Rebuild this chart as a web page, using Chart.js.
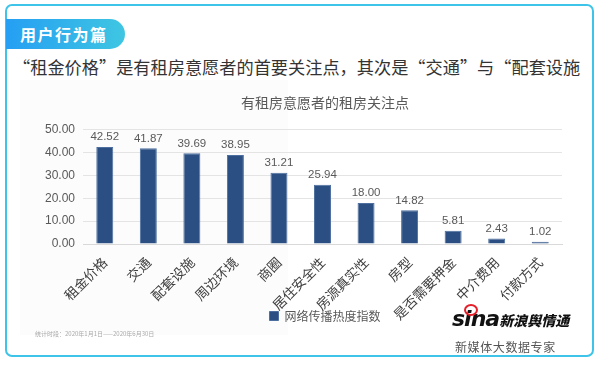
<!DOCTYPE html>
<html>
<head>
<meta charset="utf-8">
<script src="https://cdn.jsdelivr.net/npm/chart.js@4"></script>
<style>
    html, body { margin: 0; padding: 0; background: #fff; }
    body { width: 600px; height: 365px; position: relative; overflow: hidden; font-family: "Noto Sans CJK SC", "Noto Sans", sans-serif; }
    .frame { position: absolute; left: 5px; top: 4px; width: 585px; height: 349px; border: 2.5px solid #3ec4e8; border-radius: 7px; }
    .tag { position: absolute; left: 6px; top: 19px; width: 119px; height: 30px; border-radius: 0 15px 15px 0;
        background: linear-gradient(90deg, #259ff3, #3fc6e2); color: #fff; font-size: 16px; font-weight: 700;
        line-height: 30px; padding-left: 14px; box-sizing: border-box; letter-spacing: 1.5px; }
    .headline { position: absolute; left: 13px; top: 55px; font-size: 17.2px; color: #333; white-space: nowrap; line-height: 24px; }
    .inset { position: absolute; left: 20px; top: 80px; width: 268px; height: 255px; background: #fcfcfc; }
    #wrap { position: absolute; left: 40px; top: 88px; width: 570px; height: 244px; }
    .note { position: absolute; left: 35px; top: 329px; font-size: 6px; color: #aaa; white-space: nowrap; }
    .logo { position: absolute; left: 452px; top: 306px; white-space: nowrap; }
    .logo .sina { font-family: "DejaVu Sans", sans-serif; font-weight: 900; font-style: italic; font-size: 22px; color: #111; letter-spacing: -1px; }
    .logo .cn { font-weight: 900; font-style: italic; font-size: 14px; color: #111; }
    .logo .eye { position: absolute; left: 12px; top: -2px; width: 10px; height: 8px; border: 2px solid #e5202a; border-radius: 50%; }
    .slogan { position: absolute; left: 455px; top: 338px; font-size: 12px; color: #555; letter-spacing: 0.6px; white-space: nowrap; }
</style>
</head>
<body>
<div class="frame"></div>
<div class="tag">用户行为篇</div>
<div class="headline">“租金价格”是有租房意愿者的首要关注点，其次是“交通”与“配套设施</div>
<div class="inset"></div>
<div id="wrap"><canvas id="focusChart"></canvas></div>
<div class="note">统计时段：2020年1月1日——2020年6月30日</div>
<div class="logo"><span class="eye"></span><span class="sina">sina</span><span class="cn">新浪舆情通</span></div>
<div class="slogan">新媒体大数据专家</div>
<script>
const categories = ['租金价格', '交通', '配套设施', '周边环境', '商圈', '居住安全性', '房源真实性', '房型', '是否需要押金', '中介费用', '付款方式'];
const heatIndex = [42.52, 41.87, 39.69, 38.95, 31.21, 25.94, 18.00, 14.82, 5.81, 2.43, 1.02];
const seriesName = '网络传播热度指数';
const chartTitle = '有租房意愿者的租房关注点';

const barColor = '#2b4f82';

// draws the value above each bar
const valueLabels = {
    id: 'valueLabels',
    afterDatasetsDraw: (chart) => {
        const ctx = chart.ctx;
        const meta = chart.getDatasetMeta(0);
        ctx.save();
        ctx.font = '11.5px "Liberation Sans", Arial, sans-serif';
        ctx.fillStyle = '#595959';
        ctx.textAlign = 'center';
        ctx.textBaseline = 'bottom';
        meta.data.forEach((bar, i) => {
            ctx.fillText(heatIndex[i].toFixed(2), bar.x, bar.y - 4);
        });
        ctx.restore();
    }
};

new Chart(document.getElementById('focusChart'), {
    type: 'bar',
    data: {
        labels: categories,
        datasets: [{
            label: seriesName,
            data: heatIndex,
            backgroundColor: barColor,
            borderColor: '#4d6f9f',
            borderWidth: 1,
            categoryPercentage: 1,
            barPercentage: 0.39
        }]
    },
    options: {
        responsive: true,
        maintainAspectRatio: false,
        animation: false,
        plugins: {
            title: {
                display: true,
                text: chartTitle,
                color: '#595959',
                font: { size: 14, family: '"Noto Sans CJK SC", sans-serif', weight: 'normal' },
                padding: { top: 6, bottom: 19 }
            },
            legend: {
                position: 'bottom',
                labels: {
                    color: '#595959',
                    font: { size: 12, family: '"Noto Sans CJK SC", sans-serif' },
                    boxWidth: 9,
                    boxHeight: 9,
                    padding: 4
                }
            },
            tooltip: { enabled: false }
        },
        scales: {
            y: {
                min: 0,
                max: 50,
                ticks: {
                    stepSize: 10,
                    color: '#595959',
                    font: { size: 12, family: '"Liberation Sans", Arial, sans-serif' },
                    padding: 8,
                    callback: (v) => Number(v).toFixed(2)
                },
                grid: { color: '#e4e4e4', drawTicks: false },
                border: { display: false },
                afterFit: (scale) => { scale.width = 43; }
            },
            // empty right-hand axis, only keeps room so the plot stops where the original does
            spacer: {
                position: 'right',
                display: true,
                ticks: { display: false },
                grid: { display: false, drawTicks: false },
                border: { display: false },
                afterFit: (scale) => { scale.width = 48; }
            },
            x: {
                ticks: {
                    color: '#404040',
                    font: { size: 13.5, family: '"Noto Sans CJK SC", sans-serif' },
                    minRotation: 45,
                    maxRotation: 45,
                    padding: 10,
                    autoSkip: false
                },
                grid: { display: false, drawTicks: false },
                border: { color: '#d9d9d9' },
                afterFit: (scale) => {
                    // the long labels run down beside the legend, so keep the box short and don't clip them
                    scale.height = 62;
                    scale._computeLabelArea = () => undefined;
                }
            }
        }
    },
    plugins: [valueLabels]
});
</script>
</body>
</html>
